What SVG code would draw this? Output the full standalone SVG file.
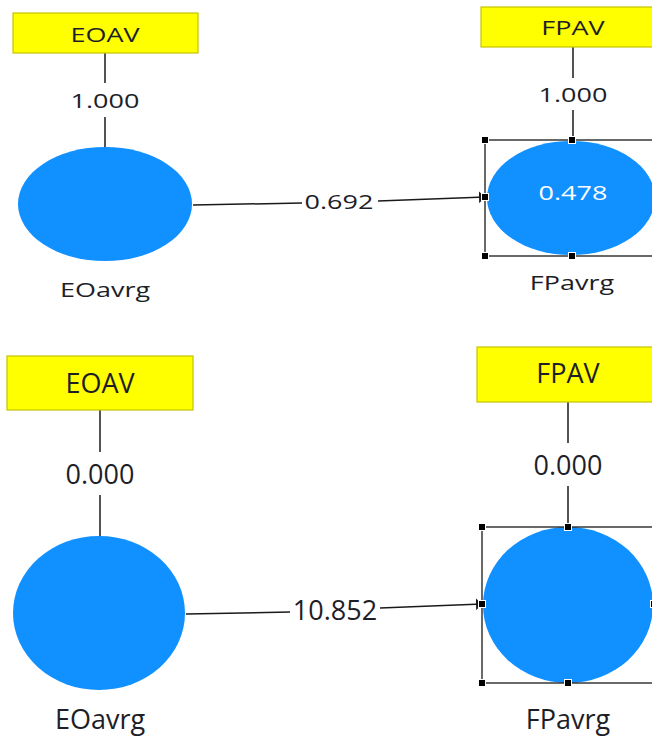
<svg xmlns="http://www.w3.org/2000/svg" width="652" height="742" viewBox="0 0 652 742">
  <style>
    .ind { fill: #ffff00; stroke: #c4c400; stroke-width: 1.2; }
    .lat { fill: #1190ff; }
    .edge { stroke: #1a1a1a; stroke-width: 1.5; fill: none; }
    .sel { stroke: #1a1a1a; stroke-width: 1.3; fill: none; }
    .hdl { fill: #000; stroke: #fff; stroke-width: 1; }
    text { font-family: "Open Sans", "DejaVu Sans", sans-serif; font-size: 27px; fill: #1e1e28; text-anchor: middle; }
    .inner { fill: #ffffff; }
  </style>
  <defs>
    <marker id="arrow" viewBox="0 0 6 12" markerWidth="6" markerHeight="12" refX="6" refY="6" orient="auto" markerUnits="userSpaceOnUse">
      <path d="M0,0 L6,6 L0,12 Z" fill="#1a1a1a"/>
    </marker>
  </defs>
  <rect width="652" height="742" fill="#ffffff"/>

  <!-- Connectors -->
  <g id="connectors">
    <!-- upper model (path coefficients) -->
    <line class="edge" x1="105" y1="53" x2="105" y2="83"/>
    <line class="edge" x1="105" y1="117" x2="105" y2="147"/>
    <line class="edge" x1="573" y1="47" x2="573" y2="78"/>
    <line class="edge" x1="573" y1="110" x2="573" y2="140"/>
    <line class="edge" x1="193" y1="205" x2="302" y2="203"/>
    <line class="edge" x1="378" y1="201" x2="485" y2="197" marker-end="url(#arrow)"/>
    <g transform="translate(105,108) scale(1,0.75)"><text x="0" y="0">1.000</text></g>
    <g transform="translate(573,102) scale(1,0.75)"><text x="0" y="0">1.000</text></g>
    <g transform="translate(339,209) scale(1,0.75)"><text x="0" y="0">0.692</text></g>

    <!-- lower model (t-values) -->
    <line class="edge" x1="100" y1="410" x2="100" y2="452"/>
    <line class="edge" x1="100" y1="495" x2="100" y2="537"/>
    <line class="edge" x1="568" y1="402" x2="568" y2="443"/>
    <line class="edge" x1="568" y1="486" x2="568" y2="527"/>
    <line class="edge" x1="186" y1="614" x2="290" y2="612"/>
    <line class="edge" x1="380" y1="608" x2="482" y2="604" marker-end="url(#arrow)"/>
    <text x="100" y="484">0.000</text>
    <text x="568" y="475">0.000</text>
    <text x="335" y="620">10.852</text>
  </g>

  <!-- Upper model nodes -->
  <g id="eoav-top">
    <rect class="ind" x="13" y="13" width="185" height="40"/>
    <g transform="translate(105,42) scale(1,0.75)"><text x="0" y="0">EOAV</text></g>
  </g>
  <g id="eoavrg-top">
    <ellipse class="lat" cx="105" cy="204" rx="87" ry="57"/>
    <g transform="translate(105,297) scale(1,0.75)"><text x="0" y="0">EOavrg</text></g>
  </g>
  <g id="fpav-top">
    <rect class="ind" x="481" y="7" width="180" height="40"/>
    <g transform="translate(573,35) scale(1,0.75)"><text x="0" y="0">FPAV</text></g>
  </g>
  <g id="fpavrg-top">
    <ellipse class="lat" cx="571" cy="198" rx="84" ry="57"/>
    <g transform="translate(573,200) scale(1,0.75)"><text class="inner" x="0" y="0">0.478</text></g>
    <rect class="sel" x="485" y="140" width="180" height="116"/>
    <rect class="hdl" x="481.5" y="136.5" width="7" height="7"/>
    <rect class="hdl" x="568.5" y="136.5" width="7" height="7"/>
    <rect class="hdl" x="481.5" y="193.5" width="7" height="7"/>
    <rect class="hdl" x="481.5" y="252.5" width="7" height="7"/>
    <rect class="hdl" x="568.5" y="252.5" width="7" height="7"/>
    <g transform="translate(572,290) scale(1,0.75)"><text x="0" y="0">FPavrg</text></g>
  </g>

  <!-- Lower model nodes -->
  <g id="eoav-bottom">
    <rect class="ind" x="7" y="356" width="186" height="54"/>
    <text x="100" y="393">EOAV</text>
  </g>
  <g id="eoavrg-bottom">
    <ellipse class="lat" cx="99" cy="613" rx="86" ry="77"/>
    <text x="100" y="729">EOavrg</text>
  </g>
  <g id="fpav-bottom">
    <rect class="ind" x="477" y="347" width="185" height="55"/>
    <text x="568" y="383">FPAV</text>
  </g>
  <g id="fpavrg-bottom">
    <ellipse class="lat" cx="568" cy="605" rx="85" ry="78"/>
    <rect class="sel" x="482" y="527" width="180" height="156"/>
    <rect class="hdl" x="478.5" y="523.5" width="7" height="7"/>
    <rect class="hdl" x="564.5" y="523.5" width="7" height="7"/>
    <rect class="hdl" x="478.5" y="600.5" width="7" height="7"/>
    <rect class="hdl" x="478.5" y="679.5" width="7" height="7"/>
    <rect class="hdl" x="564.5" y="679.5" width="7" height="7"/>
    <rect class="hdl" x="650.5" y="600.5" width="7" height="7"/>
    <text x="568" y="729">FPavrg</text>
  </g>
</svg>
